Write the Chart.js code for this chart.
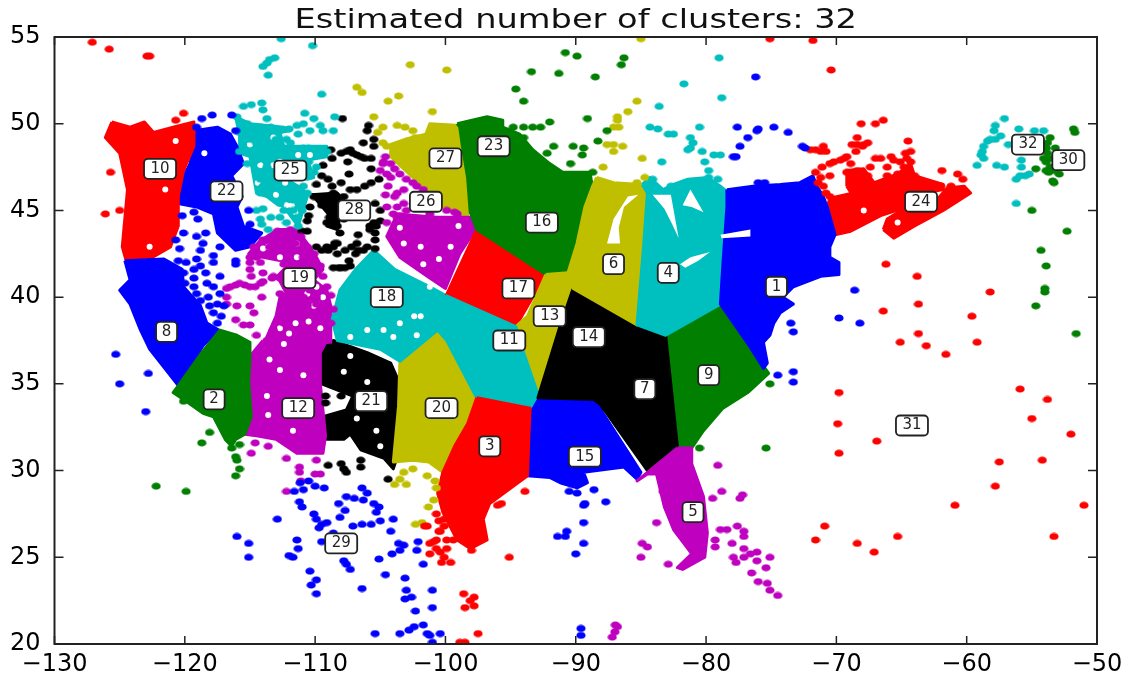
<!DOCTYPE html>
<html>
<head>
<meta charset="utf-8">
<title>Estimated number of clusters</title>
<script src="https://cdn.jsdelivr.net/npm/chart.js@4"></script>
<style>
html, body { margin: 0; padding: 0; background: #fff; }
canvas { display: block; }
</style>
</head>
<body>
<canvas id="myChart" width="1138" height="673"></canvas>
<script>
const chartTitle = "Estimated number of clusters: 32";
const xTicks = [-130, -120, -110, -100, -90, -80, -70, -60, -50];
const yTicks = [20, 25, 30, 35, 40, 45, 50, 55];

const labelNames = [1,2,3,4,5,6,7,8,9,10,11,12,13,14,15,16,17,18,19,20,21,22,23,24,25,26,27,28,29,30,31,32];
const labelX = [-74.6,-117.75,-96.6,-82.9,-81,-87.1,-84.7,-121.4,-79.8,-121.9,-95.1,-111.3,-92,-89,-89.3,-92.6,-94.4,-104.5,-111.2,-100.3,-105.7,-116.8,-96.3,-63.5,-111.9,-101.5,-100,-107,-108,-52.2,-64.2,-55.3];
const labelY = [40.6,34.1,31.4,41.4,27.6,41.9,34.7,38,35.5,47.4,37.5,33.6,38.9,37.7,30.8,44.3,40.5,40,41.1,33.6,34,46.1,48.7,45.5,47.3,45.5,48,45,25.8,47.9,32.6,48.8];

// dense parts of the clusters, as outlines
const cluster1 = [[-78.4,46.2],[-76.4,46.4],[-74.3,46.5],[-72.8,46.6],[-71.8,47],[-71.5,46.4],[-71,45.8],[-70.7,45.2],[-70.1,43.6],[-70.5,42.9],[-70.5,42.3],[-69.8,42],[-69.8,41.3],[-71.2,41.2],[-73.3,40.6],[-74.1,40],[-73.3,39.6],[-74.3,39.1],[-74.8,38.5],[-75.1,37.8],[-75.6,37.4],[-75.3,36.2],[-75.6,35.9],[-76.6,37.1],[-78.9,39.6],[-78.7,42],[-78.4,45.2]];
const cluster2 = [[-118.7,36.8],[-117.3,38.1],[-116,37.8],[-115,37.4],[-115,36.4],[-115.1,35.2],[-114.9,33.1],[-115.4,32.1],[-116.1,31.8],[-116.4,31.4],[-116.9,31.8],[-117.8,33.1],[-118.6,33.3],[-119.9,34],[-120.9,34.5],[-120.5,34.9]];
const cluster3 = [[-97.6,34.2],[-93.5,33.6],[-93.6,31.9],[-93.7,29.7],[-94.8,29.1],[-96.6,28.1],[-97.1,27.2],[-96.8,26],[-98.1,25.5],[-99.1,26],[-100.2,27.6],[-100.6,28.7],[-100.2,29.9],[-99.3,31.4],[-98.3,32.7]];
const cluster4 = [[-84.9,46.5],[-84.3,46.9],[-83.3,46.2],[-82.5,46.5],[-81.4,46.8],[-79.9,46.9],[-78.9,46.4],[-78.1,45.9],[-78.4,45.2],[-78.7,42],[-78.9,39.6],[-83.1,37.8],[-85.3,38.4],[-84.8,42.9],[-84.5,46]];
const cluster5 = [[-82.2,31.3],[-81.1,31.3],[-81.1,30.4],[-80.2,28.5],[-79.9,26.4],[-80.1,25],[-81.8,24.3],[-82.2,24.4],[-81.1,25.2],[-81.4,25.5],[-82.5,26.6],[-83.2,27.9],[-83.8,29.8],[-84.5,29.8],[-85.3,29.4]];
const cluster6 = [[-88.4,46.9],[-87.1,46.6],[-85,46.5],[-84.5,46],[-84.8,42.9],[-85.3,38.4],[-90.2,40.5],[-90.6,41.4],[-89.9,43.1],[-89.3,45.2],[-88.7,46.4]];
const cluster7 = [[-90.2,40.5],[-85.3,38.4],[-83.1,37.8],[-82.2,31.4],[-84.5,30],[-88.1,33.8],[-88.6,34.1],[-92.9,34.2],[-91.3,38.1]];
const cluster8 = [[-124.6,42.1],[-121.6,42.2],[-120.2,41.6],[-120.1,40.6],[-118.8,39.5],[-118.3,38.5],[-117.4,38.1],[-118.6,37.2],[-120.5,34.9],[-122.7,37],[-123.4,38.1],[-124.2,39.6],[-125,40.4],[-124.2,41]];
const cluster9 = [[-83.1,37.8],[-78.9,39.6],[-76.6,37.1],[-75.2,35.6],[-76.8,34.5],[-78.7,33.6],[-80.2,32.3],[-81.1,31.3],[-82.2,31.3]];
const cluster10 = [[-125.6,50.1],[-124.2,49.8],[-123.1,50.1],[-122.4,49.5],[-120.9,49.8],[-119.3,50.1],[-119.3,48.7],[-120.1,47.3],[-120.5,45.8],[-120.5,44.1],[-121.1,42.9],[-122.7,42.2],[-124.5,42.1],[-124.8,42.9],[-124.4,46.2],[-125,48.3],[-126.1,49.2]];
const cluster11 = [[-100,40.1],[-94.6,38.3],[-94,36.8],[-92.9,34.4],[-93.5,33.6],[-97.6,34.2],[-99.9,37.5],[-100.6,38.1]];
const cluster12 = [[-114,37.5],[-109.1,37.5],[-109.6,36.8],[-109.6,35],[-109.2,32],[-109.4,31],[-111.4,31],[-113,31.8],[-114.5,32],[-115.4,32.1],[-114.9,33.7],[-115.1,35.2],[-115,36.6]];
const cluster13 = [[-92.3,41.3],[-90.6,41.4],[-90.2,40.5],[-91.3,38.1],[-92.9,34.4],[-94,36.8],[-94.6,38.3],[-93.7,38.9]];
const cluster15 = [[-93.5,33.6],[-93,34.1],[-88.4,34.1],[-87.9,33.3],[-85,29.9],[-85.3,29.5],[-86.3,30.2],[-89.4,29.9],[-89.1,29.3],[-89.9,29],[-91.2,29.3],[-92,29.6],[-93.7,29.7],[-93.6,31.9]];
const cluster16 = [[-99.1,50],[-96.8,50.4],[-95.6,50.2],[-95.6,49.8],[-94.3,49.4],[-93.3,48.5],[-92,47.7],[-91,47.2],[-88.9,47.2],[-88.7,46.2],[-89.4,44.6],[-89.9,43.1],[-90.6,41.4],[-92.3,41.3],[-97.6,43.9],[-98.1,44.9],[-98.3,46.9],[-98.7,48.7],[-98.9,49.8]];
const cluster17 = [[-97.6,43.9],[-92.3,41.3],[-94.6,38.3],[-100,40]];
const cluster18 = [[-105.5,42.7],[-103.9,41.6],[-101.2,40.6],[-100,40.1],[-100.6,38.1],[-102.2,37.1],[-103.5,36.3],[-105,37],[-108.3,37.5],[-108.7,38.7],[-108.1,40.4],[-106.9,41.6]];
const cluster19 = [[-112.9,43.9],[-111.4,43.9],[-110.6,43.1],[-109.9,42.3],[-109.4,41.6],[-110.1,41],[-109.1,40.4],[-108.8,39.5],[-108.8,37.4],[-114,37.2],[-113,38.9],[-112.7,40],[-112.2,40.2],[-112.9,41.2],[-111.9,42],[-114,42.3],[-115.1,42.5],[-114.3,43.2]];
const cluster20 = [[-100.6,38.1],[-99.9,37.5],[-97.6,34.5],[-98.3,32.7],[-99.3,31.4],[-100.2,29.9],[-101.3,30.5],[-102.5,30.6],[-104,30.5],[-103.6,33.7],[-103.5,36.2],[-102.2,37.1]];
const cluster21 = [[-109.6,37],[-108.6,37.5],[-106,36.8],[-104.2,36.2],[-103.5,35],[-103.7,30.8],[-104,30.1],[-104.7,30.7],[-106.5,31.2],[-107.3,32.1],[-107.8,31.8],[-109.1,31.8],[-109.4,32.7],[-109.4,33.1],[-107.6,33.5],[-107.1,34.3],[-109.5,35],[-109.6,35.8]];
const cluster22 = [[-119.3,48.7],[-119.3,49.6],[-117.5,49.8],[-116.5,49.4],[-116,48.7],[-115.5,47.7],[-116.4,47],[-115.6,45.8],[-116,45.2],[-115.5,44.1],[-114.1,43.7],[-115,42.9],[-116.1,42.7],[-117.5,43.7],[-117.8,44.8],[-119.1,45.2],[-120.5,45.4],[-120.2,46.8],[-119.6,47.7]];
const cluster24West = [[-70.7,45.2],[-70.1,43.6],[-68.9,43.8],[-66.6,44.7],[-64.6,45.2],[-64.8,45.8],[-66.1,46.2],[-67.4,46.3],[-68.7,46],[-70.5,45.7]];
const cluster24East = [[-66.4,43.9],[-65.6,43.4],[-64,44.1],[-61.8,45],[-59.7,46],[-60.2,46.4],[-61.5,46.3],[-62.3,45.6],[-64.6,45.2],[-66.1,44.5]];
const cluster24Mid = [[-69.2,46.4],[-69.2,47.3],[-67.9,47.4],[-67.1,46.6],[-65.3,47.1],[-64.3,47.7],[-64,47],[-61.8,46.5],[-61.8,46.2],[-64.6,45.8],[-68.7,45.8]];
const cluster25 = [[-116.1,50.4],[-115,50],[-112.4,49.8],[-111.9,49.6],[-112.7,49.5],[-112.4,48.7],[-109.1,48.7],[-109.1,48.1],[-110.6,47.9],[-110.1,46.9],[-110.6,46.8],[-112.4,46.9],[-110.9,46.2],[-110.6,45.8],[-111.3,44.1],[-111.8,44.6],[-112.4,45.2],[-113,45.4],[-113.7,45.8],[-114.5,46],[-115,48.1],[-115.8,48.3],[-115.8,49.3]];
const cluster26 = [[-100.7,44.6],[-98.1,44.6],[-97.7,43.9],[-98.9,42.5],[-100,40.5],[-101.4,41.2],[-103.5,42.3],[-104.5,43.5],[-103.7,44.8]];
const cluster27 = [[-104.2,48.1],[-102.5,46.9],[-100.2,45.2],[-98.3,44.6],[-98.3,46.9],[-98.7,48.7],[-98.9,49.9],[-101.2,50],[-101.5,49.4],[-103.1,49.1],[-104.2,48.8]];
const cluster28 = [[-110.3,45.9],[-108.3,46],[-107.8,45.6],[-108.3,43.9],[-109.1,44.1],[-109,44.8],[-109.9,45.6]];

// lakes and other blank patches inside the outlines
const lakeMichigan = [[-85.2,45.9],[-86,45.8],[-87.1,44.5],[-87.6,43.1],[-86.6,43.1],[-86.7,44],[-86.3,45.2]];
const lakeHuronWest = [[-84.1,45.9],[-82.7,45.9],[-82.1,43.4],[-82.6,44.2],[-83.2,45.1]];
const lakeHuronEast = [[-81.8,45.3],[-81.2,46.2],[-80.2,44.9],[-81.1,45.2]];
const lakeErie = [[-82,41.9],[-81.2,42.3],[-79.7,42.6],[-80.6,42.1],[-81.6,41.7]];
const lakeOntario = [[-78.9,43.6],[-76.6,43.9],[-76.6,43.5],[-78.8,43.4]];
const gapSpots = [[-120.7,49],[-121.5,46.2],[-122.7,42.9],[-118.5,48.3],[-113.5,36.4],[-112.7,35.8],[-110.9,35.5],[-113.7,34.3],[-113.6,33.2],[-111.7,32.3],[-112.4,37.3],[-108.3,33.9],[-105.3,32.3],[-105,31.4],[-106.8,33],[-107.8,35.7],[-107.3,36.6],[-106,35.1],[-103.5,38.5],[-101.9,38.9],[-101.2,40.6],[-104,37.7],[-102.4,38.9],[-104.75,38.1],[-107.3,37.7],[-106,38.1],[-102.2,37.8],[-101.7,41.9],[-100.5,42.2],[-99.6,42.9],[-103.2,43.1],[-101.9,42.9],[-103.5,44],[-99,44.1],[-67.9,45],[-65.3,44.3],[-111.4,43.1],[-110.6,40.2],[-109.4,40],[-110.1,39.5],[-112,37.9],[-113.6,42.9],[-115,48.8],[-112.7,47.8],
  [-113,45.9],[-112.2,45.3],[-111.8,45.3],[-111.5,44.9],[-112.3,46.6],[-111.2,46.7],[-114.2,47.6],[-113.2,47.6],[-114.4,46.6],[-113.2,49.2],[-110.4,48.2],[-111.3,48.2],
  [-114,42.8],[-112.7,42.3],[-111.4,42.3],[-110.8,41.5],[-109.9,40.6],[-111.5,38.5],[-110.5,38.6],[-112.7,38.2],[-109.6,38.2]];

// scattered points, one list per colour
const blueDots = [[-76.2,52.7],[-77.6,49.8],[-76.1,49.6],[-76.8,49.2],[-77.4,48.7],[-77.9,48.1],[-76,49.7],[-74.8,49.8],[-73.7,49.5],[-77.7,48.1],[-72.6,48.7],[-72.4,48.6],[-76,46.6],[-75.5,46.6],[-68.6,40.4],[-69.8,38.8],[-68.2,38.5],[-73.5,38.5],[-73.3,38],[-74.5,35.5],[-73.3,35.7],[-73.3,35.1],
  [-120.1,43.7],[-120.7,43.3],[-120.4,42.8],[-119.1,43.5],[-118.4,43.7],[-118.6,43.1],[-118.8,42.7],[-119.1,42.2],[-117.8,42.4],[-117.3,42.9],[-120.5,42.1],[-119.9,42],[-118.8,41.8],[-118.4,41.4],[-117.8,42],[-117.3,41.2],[-119.3,40.6],[-117.8,40.6],[-117.3,40.2],[-118.1,39.5],[-117,39.5],[-117.2,38.9],[-116.1,42.1],[-116.1,41.9],[-121.1,41.4],[-120.6,41.1],[-120,40.8],[-120.1,41.4],[-125.3,36.7],[-122.8,35.6],[-125,35],[-123,33.4],
  [-119.3,41.6],[-119.3,41.1],[-118.3,40.8],[-119.1,40.2],[-118.8,39.8],[-118.2,40],[-117.5,39.6],[-117.8,39.1],[-117.5,38.5],
  [-118.7,50.3],[-117.9,50.5],[-116.4,50.5],[-116.1,49.6],[-119.1,49.8],[-115.1,45],[-115,44.2],[-119.3,44.9],[-119,44.5],[-120.2,44.7],
  [-111.15,29.3],[-110.9,28.9],[-110.5,29.4],[-110,29.1],[-109.3,29],[-111.6,28.8],[-111.2,28.2],[-111,27.9],[-112.9,27.2],[-110.1,27.5],[-109.9,27.2],[-109.5,26.9],[-109.1,27],[-109.7,26.7],[-108.6,26.4],[-108.2,28.1],[-107.7,27.7],[-108.1,27.3],[-107.6,28.5],[-107,28.4],[-106.4,29],[-106,28.7],[-106.3,28.3],[-105.5,28.1],[-105.1,27.9],[-105.3,27.6],[-107.1,26.8],[-106.4,26.9],[-105.7,26.9],[-105,27.1],[-104,27.2],[-104.2,26.5],[-116,26.2],[-115.1,25.8],[-115.1,25],[-111.4,26],[-111.3,25.5],[-112,25.1],[-111.7,25],[-109.5,25.9],[-103.6,25.8],[-103.2,25.7],[-103.5,25.4],[-104.1,25.2],[-102.1,25.9],[-102.2,25.4],[-105.1,24.9],[-101.7,24.6],[-107.8,24.8],[-107.6,24.6],[-107.3,24.3],[-110.4,24.2],[-109.9,23.7],[-110.3,23.4],[-109.9,22.9],[-104.6,24],[-106.4,23.2],[-103.1,23.8],[-103,23.1],[-102.6,22.7],[-103.1,22.6],[-102.3,21.9],[-105.4,20.6],[-103.5,20.6],[-102.8,20.8],[-102.4,21],[-101.7,21.1],[-101.4,20.6],[-101,23.1],[-101,22.1],[-101.2,20.5],[-100.4,20.6],[-101,20.1],
  [-90.5,28.8],[-89.9,28.7],[-88.6,28.9],[-87.7,28.2],[-89.3,28.1],[-89.4,28],[-89.4,27],[-90.7,26.5],[-91.4,26.2],[-90.8,26.2],[-89.4,25.8],[-90,25.2],[-89.6,20.9],[-89.6,20.5]];
const greenDots = [[-94.8,49.8],[-94,49.8],[-93.3,49.8],[-92.7,49.8],[-92,50.1],[-94,49.2],[-89.1,50.3],[-87.6,49.6],[-88.3,49],[-89.4,48.6],[-90.2,48.7],[-89.5,48.2],[-91.7,48.7],[-92.2,48.3],[-90.4,47.7],[-94,48],[-93.3,48.1],[-88.7,47.2],[-89.4,46.9],[-94.6,52],[-94,51.3],[-93.4,53],[-91.3,52.9],[-90.8,54.1],[-89.9,53.9],[-88.5,52.7],[-86.5,53.4],[-86.3,53.8],
  [-51.8,49.7],[-51.7,49.5],[-53.6,49.2],[-53.8,48.9],[-53.2,48.6],[-53.8,48.3],[-53.9,47.8],[-53.6,47.5],[-54.7,47.4],[-53.9,47.3],[-52.9,47.1],[-53.4,46.7],[-53.3,46.6],[-55,45],[-52.3,43.8],[-54.3,42.7],[-53.9,41.8],[-54,40.5],[-54,40.3],[-54.7,39.5],[-51.6,37.9],[-53.9,48.6],[-54.1,48],[-53.6,48],[-53.7,47.2],[-53.2,47.3],
  [-75.1,35],[-75.4,31.3],[-80.5,31.3],[-118.1,32.2],[-118.7,31.6],[-120.1,34],[-115.8,31.5],[-116.1,30.8],[-116,30.6],[-115.8,30.1],[-116.1,29.7],[-122.2,29.1],[-119.9,28.8],[-116.4,31.3]];
const redDots = [[-75.1,54.9],[-71.8,54.8],[-70.4,53.1],[-66.2,41.9],[-63.8,41.2],[-58.2,40.3],[-66.4,39.2],[-63.7,39.6],[-59.6,38.9],[-63.7,37.9],[-65.1,37.4],[-63.1,37.2],[-59.2,37.4],[-61.6,36.7],[-55.9,34.7],[-53.8,34.1],[-69.8,34.5],[-55,33],[-52,32.1],[-69.9,32.7],[-66.9,31.7],[-69.8,31],[-57.5,30.5],[-54.2,30.6],[-57.8,29.1],[-60.9,28],[-51,28],[-70.9,26.8],[-71.6,26],[-68.4,25.8],[-67.1,25.3],[-65.3,26.2],[-53.3,26.2],
  [-71.6,47.2],[-71.4,46.6],[-70.8,46],[-70.5,47.7],[-69.7,47.9],[-69.2,48.1],[-70.5,47],[-68.9,47.7],[-69.2,47.2],[-68.4,47.3],[-67.6,47],[-68.2,46.6],[-68.7,46.8],[-68.4,46.2],[-67.4,46.4],[-66.4,46.4],[-65.3,46.4],[-66.1,47],[-65.3,47.1],[-64.8,47.5],[-64.3,47.8],[-64.7,48.3],[-64.3,48.4],[-65.8,48.1],[-66.6,48],[-67,48],[-67.4,47.5],[-64,47],[-64.6,46.8],[-63.5,46.5],[-62.8,46.5],[-62,46.4],[-60.7,47.1],[-60.3,46.8],[-61.9,47.3],[-64.5,49],[-68.1,50],[-67,50],[-66.4,50.2],[-68.4,49.2],[-68.8,48.8],[-67.6,48.9],[-68.5,48.4],[-68,48.7],[-72,48.5],[-71.6,48.5],[-71.2,48.4],[-70.8,48.4],[-71,48.7],
  [-71.1,47.5],[-70.2,47.8],[-69.4,48],[-71.2,46.9],[-71,46.4],[-70.5,45.8],[-70,45.6],[-68.4,48.8],[-67.9,48.8],[-66.1,47.5],[-65.1,47.8],[-65.6,47.9],[-64.6,48],[-61.5,45.8],[-61.2,46.4],[-60.5,46.2],[-61,46],
  [-127.1,54.7],[-125.8,54.3],[-122.7,53.9],[-122.9,53.9],[-125.7,47.2],[-126.1,44.8],[-125,45],[-120.1,50.6],[-120.7,50.2],
  [-93.9,28.8],[-95.7,28.1],[-96,28],[-95.1,25],[-98.6,22.9],[-97.8,22.7],[-98.1,22.5],[-97.8,22.2],[-98.5,22.1],[-97.5,20.6],[-98.5,20.1],[-98.9,20.1],[-100.7,27.5],[-100.1,27.2],[-101.4,26.8],[-100.4,26.5],
  [-101.2,25.8],[-100.7,25.5],[-101.2,25.2],[-99.9,26],[-99.4,26],[-100.1,25],[-99.6,24.7],[-100.3,24.7],[-100.7,26],[-100.5,26.5],[-100.1,26.8],[-100.5,27.1],[-101.6,26.8],[-98,25.4],[-99.9,25.5],[-100.4,25.3],[-100.9,25.9]];
const cyanDots = [[-79,53.8],[-81.7,52.3],[-78.8,51.5],[-83.6,51],[-84.3,49.8],[-83.7,49.7],[-82.9,49.4],[-82.5,49.4],[-80.5,49.8],[-81.2,49.2],[-81,48.9],[-81.4,48.5],[-81.2,48.6],[-80.3,48.4],[-79.4,48.2],[-78.9,48.2],[-83.4,47.8],[-80.1,47.8],[-79.8,47.3],[-79.8,46.9],[-84.1,46.8],[-82.7,46.4],[-79.1,46.8],
  [-57.1,50.3],[-57.8,49.9],[-57.9,49.6],[-57.4,49.3],[-57.8,49.1],[-58.4,49],[-58.7,48.7],[-58.8,48.4],[-58.9,48.2],[-58.7,48],[-59.2,47.6],[-57.7,47.6],[-57.1,47.5],[-56,49.7],[-56.8,48.8],[-54.8,49.6],[-54.1,49.6],[-55.8,47.9],[-55.8,47.5],[-55.9,47],[-55.2,47.1],[-56.2,46.8],[-55.5,47],[-56.2,45.4],[-58.2,49.1],
  [-112.6,54.9],[-110.2,54.5],[-113.1,53.8],[-113.5,53.7],[-113.7,53.5],[-114,53.3],[-113.6,52.8],[-109.5,51.7],
  [-115.5,51],[-114.9,51.1],[-114.1,51.2],[-114,50.8],[-113.7,50.3],[-116,50.4],[-115.6,50],[-115,49.6],[-114.2,49.8],[-113.4,49.8],[-112.7,49.6],[-112,49.7],[-115.8,49.5],[-115,49.1],[-114,49.3],[-113,49.1],[-112.2,49.1],[-115.8,48.4],[-114.7,48.5],[-114,48.3],[-113,48.3],[-111.9,48.5],[-110.9,48.6],[-109.9,48.5],[-109.1,48.4],[-115.2,47.7],[-114.5,47.3],[-113.7,47.5],[-110.5,47.8],[-110.1,47.2],[-114.2,46.8],[-113.4,46.6],[-114.2,46],[-112.7,46.2],[-111.4,46.2],[-110.9,46.4],[-112.7,45.4],[-111.7,45.6],[-110.6,46],[-114.5,45],[-114,45.1],[-114.2,44.5],[-113.4,44.6],[-114.1,44.2],[-112.7,44.6],[-112.2,44.3],[-111.4,44.6],[-111.3,44.1],[-113.6,43.9],[-110.8,50.6],[-111.4,49.9],[-110.9,50],[-110.1,50.3],[-109.6,49.9],[-110.4,49.6],[-109.4,49.6],[-108.6,49.6],[-108.5,50.4],[-111.3,49.4],[-112.4,47],[-113.7,47.1],[-111.9,48.9],[-114.5,47.9],[-113.7,48.1],[-112.4,47.7],[-113.4,48.8],[-114.5,48.9],[-114.3,49.5],[-113.7,49.5],[-115.2,50],[-111.9,45.8],[-112.4,45.8],[-112.4,45],[-111,45],[-112.9,46.8],[-110.5,48.6],[-109.5,48.4],[-109.9,47.5],[-110.4,47],[-114,46.4],[-111.9,46.3],[-111.7,45]];
const magentaDots = [[-79.1,30.3],[-83.3,28.8],[-78.8,28.8],[-79.5,28.4],[-77.2,28.6],[-77.4,28.4],[-83.8,27],[-84.9,25.8],[-84.5,25.6],[-85,25],[-82.9,24.6],[-79.3,25.6],[-78.9,26.6],[-78.4,26.6],[-77.6,26.8],[-77.1,26.5],[-77.1,26.2],[-78,25.8],[-77.1,25.5],[-76.1,25.3],[-76.6,25.2],[-77.9,25],[-77.1,25],[-76.1,24.8],[-75.4,24.4],[-76.5,24.1],[-75.1,25],[-76,23.6],[-75.3,23.5],[-75.1,23.1],[-74.5,22.8],[-86.96,21.1],[-86.8,21],[-87,20.7],[-87.2,20.4],[-77.7,24.7],[-79.3,26],
  [-114.6,31.6],[-114.9,31],[-113.6,31.4],[-112.2,30.7],[-111.2,30.2],[-111.2,29.9],[-109.9,30.6],[-110,29.8],[-109.6,29.8],[-111.1,29.4],[-112.2,28.8],
  [-112.9,43.8],[-111.9,43.9],[-111.1,43.5],[-114,43.3],[-114.7,42.9],[-113.5,42.9],[-112.4,43.2],[-110.6,42.9],[-115,42.3],[-114.2,42],[-110.9,42.3],[-110.1,42.5],[-115,41.6],[-114,41.4],[-113.2,41.2],[-109.6,41.8],[-115.8,40.8],[-115,40.6],[-114.2,40.8],[-109.4,41.2],[-109.1,40.6],[-116.5,40.6],[-116.8,40],[-114.1,40],[-112.7,40.2],[-111.9,40.4],[-109.9,40],[-108.8,40.1],[-116.8,39.6],[-116,39.5],[-115,39.5],[-114.7,39.1],[-112.4,39.5],[-111.4,39.8],[-110.6,39.5],[-109.4,39.3],[-108.6,39.3],[-116.1,38.7],[-115.5,38.4],[-115,38.4],[-112.7,38.9],[-111.9,39.1],[-110.9,38.9],[-109.9,38.7],[-108.8,38.5],[-114.5,37.8],[-113.2,38.1],[-112.4,38.5],[-111.4,38.1],[-110.4,38.1],[-109.1,37.7],[-113.7,37.5],[-114.5,42.3],[-112.4,41.9],[-110.1,41.9],[-112.9,43.4],[-111.5,43.1],[-110.4,40.4],[-110.9,40],[-111.9,39.5],[-109.9,39.6],
  [-116.8,40.5],[-116.1,40.7],[-115.4,40.7],[-114.6,40.6],[-114,40.9],[-113.3,41.1],[-112.7,41.1],[-115,42],[-114.9,41.2],
  [-104.2,47.7],[-104.8,47.7],[-103.5,47.1],[-102.5,46.6],[-104.4,46.4],[-101.7,46.2],[-104.6,45.9],[-103.9,45.8],[-103.2,46.2],[-104.5,45.2],[-103.7,45.2],[-102.2,46.4],[-105,47.3],[-104.6,48.1],[-103,45],[-101.2,44.8],[-99.3,44.9],[-104.75,47.8],[-103.7,46],[-103.7,44.6],[-104.5,44.3],
  [-104.5,47.1],[-103.9,47.4],[-103,46.8],[-104.2,46.9],[-103.2,45.4],[-104,44.8],[-103.5,44.7],[-99.9,45],[-99.1,44.8]];
const oliveDots = [[-102.7,53.4],[-99.9,53.1],[-103.6,51.6],[-104.4,51.3],[-105.5,50.4],[-106.8,52.1],[-106.4,51.8],[-101,50.7],[-105.2,49.5],[-104.8,49.8],[-103.7,49.9],[-102.5,49.6],[-104.5,48.7],[-104.8,48.9],[-103.1,49.8],[-102.3,49.2],
  [-85,54.9],[-85.3,51.3],[-86,50.7],[-86.8,50.4],[-86.8,50.2],[-86.7,49.8],[-87.1,49.8],[-87.6,48.8],[-87.1,48.8],[-86.4,48.7],[-87.1,48.4],[-84.9,48],[-87.9,47.5],[-84.7,46.9],[-85.3,46.6],
  [-103.5,29.5],[-103.9,29.2],[-103,29.2],[-102.5,30.1],[-103.2,29.9],[-101.4,29.7],[-100.8,29.4],[-100.7,29],[-100.9,28.3],[-101.3,27.9],[-101.8,27],[-102.3,26.9]];
const blackDots = [[-107.9,50.3],[-105.9,49.9],[-106,49.6],[-105.5,49.1],[-105.5,48.7],[-106.3,48.9],[-108.8,48.5],[-108,48.3],[-107.3,48.5],[-106.8,48.2],[-106.2,48],[-105.7,48],[-108.7,48],[-107.5,47.8],[-109.4,47.6],[-105.7,47.4],[-109.5,47],[-107.4,47.1],[-109.9,46.5],[-109,46.8],[-108,46.6],[-108.7,46.4],[-107.3,46.2],[-106.8,46.2],[-106.2,46.4],[-105.7,46.6],[-105.1,46.8],[-110.1,45.8],[-109.4,45.8],[-108.6,46],[-107.8,45.8],[-109.1,45.2],[-108.3,45.4],[-105.4,45.4],[-105,45],[-110.4,45.2],[-110.5,44.7],[-110.6,44.4],[-110.6,43.8],[-111,43.8],[-108.9,44.6],[-109.1,44.3],[-107.8,44.5],[-108.3,44.1],[-105.5,44.3],[-105,44.4],[-105.8,43.9],[-106.7,43.6],[-105.4,43.3],[-109.9,42.9],[-109.1,42.9],[-108.5,43.1],[-108.1,43.7],[-108.3,42.5],[-107.7,42.7],[-106.8,43.1],[-106.3,42.7],[-105.4,42.8],[-106.9,42.5],[-107.4,42.1],[-107.3,41.8],[-108,41.7],[-108.6,41.7],[-108.8,45.6],[-109.5,45.3],[-108.8,45],[-108.6,44.6],
  [-107.6,48.4],[-107.1,48.3],[-106.5,48.1],[-107.2,42.9],[-106.7,42.7],[-106,42.9],[-105.8,44.1],[-105.3,44.1],[-105.4,43.7],[-109.5,42.7],[-109,42.7],[-108.6,42.9],[-108.3,43.1],[-107.7,41.7],[-108.2,41.7],
  [-109,30.3],[-108,30.4],[-107.8,30.1],[-107.6,29.9],[-106.5,30.6],[-106.5,30.2],[-104.4,29.5],[-109.2,34.3],[-108,34.3],[-109.2,33.9]];

const BLUE = "#0000ff", GREEN = "#007f00", RED = "#ff0000", CYAN = "#00bfbf", MAGENTA = "#bf00bf", OLIVE = "#bfbf00", BLACK = "#000000";

const toPoints = list => list.map(p => ({ x: p[0], y: p[1] }));

// the reference markers are slightly wider than tall
function dotImage(color) {
    const c = document.createElement("canvas");
    c.width = 10;
    c.height = 8;
    const g = c.getContext("2d");
    g.fillStyle = color;
    g.beginPath();
    g.ellipse(5, 4, 4.6, 3.6, 0, 0, Math.PI * 2);
    g.fill();
    return c;
}

function outline(list, color, order) {
    return {
        data: toPoints(list.concat([list[0]])),
        showLine: true,
        fill: "shape",
        backgroundColor: color,
        borderColor: color,
        borderWidth: 3,
        borderJoinStyle: "round",
        tension: 0,
        pointRadius: 0,
        order: order
    };
}

function dots(list, color, order) {
    return {
        data: toPoints(list),
        showLine: false,
        pointStyle: dotImage(color),
        pointRadius: 4,
        order: order
    };
}

const datasets = [
    [cluster1, BLUE], [cluster2, GREEN], [cluster3, RED], [cluster4, CYAN],
    [cluster5, MAGENTA], [cluster6, OLIVE], [cluster7, BLACK], [cluster8, BLUE], [cluster9, GREEN],
    [cluster10, RED], [cluster11, CYAN], [cluster12, MAGENTA], [cluster13, OLIVE], [cluster15, BLUE],
    [cluster16, GREEN], [cluster17, RED], [cluster18, CYAN], [cluster19, MAGENTA], [cluster20, OLIVE],
    [cluster21, BLACK], [cluster22, BLUE], [cluster24West, RED], [cluster24East, RED], [cluster24Mid, RED],
    [cluster25, CYAN], [cluster26, MAGENTA], [cluster27, OLIVE], [cluster28, BLACK]
].map(r => outline(r[0], r[1], 3));

[lakeMichigan, lakeHuronWest, lakeHuronEast, lakeErie, lakeOntario].forEach(lake => {
    const ds = outline(lake, "#ffffff", 2);
    ds.borderWidth = 0;
    datasets.push(ds);
});
datasets.push({
    data: toPoints(gapSpots),
    showLine: false,
    backgroundColor: "#ffffff",
    borderWidth: 0,
    pointRadius: 3,
    order: 2
});

[[blueDots, BLUE], [greenDots, GREEN], [redDots, RED], [cyanDots, CYAN], [magentaDots, MAGENTA], [oliveDots, OLIVE], [blackDots, BLACK]]
    .forEach(r => datasets.push(dots(r[0], r[1], 1)));

const frameAndLabels = {
    id: "frameAndLabels",
    afterDatasetsDraw(chart) {
        const ctx = chart.ctx, a = chart.chartArea;
        const xs = chart.scales.x, ys = chart.scales.y;

        ctx.save();
        ctx.strokeStyle = "#222";
        ctx.lineWidth = 1.5;
        ctx.beginPath();
        xTicks.forEach(v => {
            const px = xs.getPixelForValue(v);
            ctx.moveTo(px, a.top); ctx.lineTo(px, a.top + 8);
            ctx.moveTo(px, a.bottom); ctx.lineTo(px, a.bottom - 8);
        });
        yTicks.forEach(v => {
            const py = ys.getPixelForValue(v);
            ctx.moveTo(a.left, py); ctx.lineTo(a.left + 9, py);
            ctx.moveTo(a.right, py); ctx.lineTo(a.right - 9, py);
        });
        ctx.stroke();

        ctx.lineWidth = 2;
        ctx.strokeRect(a.left, a.top, a.right - a.left, a.bottom - a.top);

        ctx.font = "15px 'DejaVu Sans'";
        ctx.textAlign = "center";
        ctx.textBaseline = "middle";
        labelNames.forEach((name, i) => {
            const px = xs.getPixelForValue(labelX[i]);
            const py = ys.getPixelForValue(labelY[i]);
            const w = name < 10 ? 21 : 32;
            ctx.beginPath();
            ctx.roundRect(px - w / 2, py - 10, w, 20, 4);
            ctx.fillStyle = "#fff";
            ctx.fill();
            ctx.strokeStyle = "#222";
            ctx.lineWidth = 1.8;
            ctx.stroke();
            ctx.fillStyle = "#222";
            ctx.fillText(String(name), px, py);
        });

        // title is stretched sideways in the reference
        ctx.translate((a.left + a.right) / 2, 21);
        ctx.scale(1.246, 1);
        ctx.font = "27px 'DejaVu Sans'";
        ctx.fillStyle = "#111";
        ctx.fillText(chartTitle, 0, 0);
        ctx.restore();
    }
};

new Chart(document.getElementById("myChart"), {
    type: "scatter",
    data: { datasets: datasets },
    options: {
        responsive: false,
        animation: false,
        layout: { padding: { left: 0, right: 41, top: 37, bottom: 0 } },
        plugins: {
            legend: { display: false },
            tooltip: { enabled: false },
            title: { display: false }
        },
        scales: {
            x: {
                type: "linear",
                min: -130,
                max: -50,
                afterBuildTicks: s => { s.ticks = xTicks.map(v => ({ value: v })); },
                afterFit: s => { s.height = 29; },
                grid: { display: false },
                border: { display: false },
                ticks: {
                    color: "#000",
                    padding: -2,
                    maxRotation: 0,
                    font: { family: "'DejaVu Sans'", size: 24 },
                    callback: v => String(v).replace("-", "\u2212")
                }
            },
            y: {
                type: "linear",
                min: 20,
                max: 55,
                afterBuildTicks: s => { s.ticks = yTicks.map(v => ({ value: v })); },
                afterFit: s => { s.width = 54.5; },
                grid: { display: false },
                border: { display: false },
                ticks: {
                    color: "#000",
                    padding: 6,
                    font: { family: "'DejaVu Sans'", size: 24 }
                }
            }
        }
    },
    plugins: [frameAndLabels]
});
</script>
</body>
</html>
